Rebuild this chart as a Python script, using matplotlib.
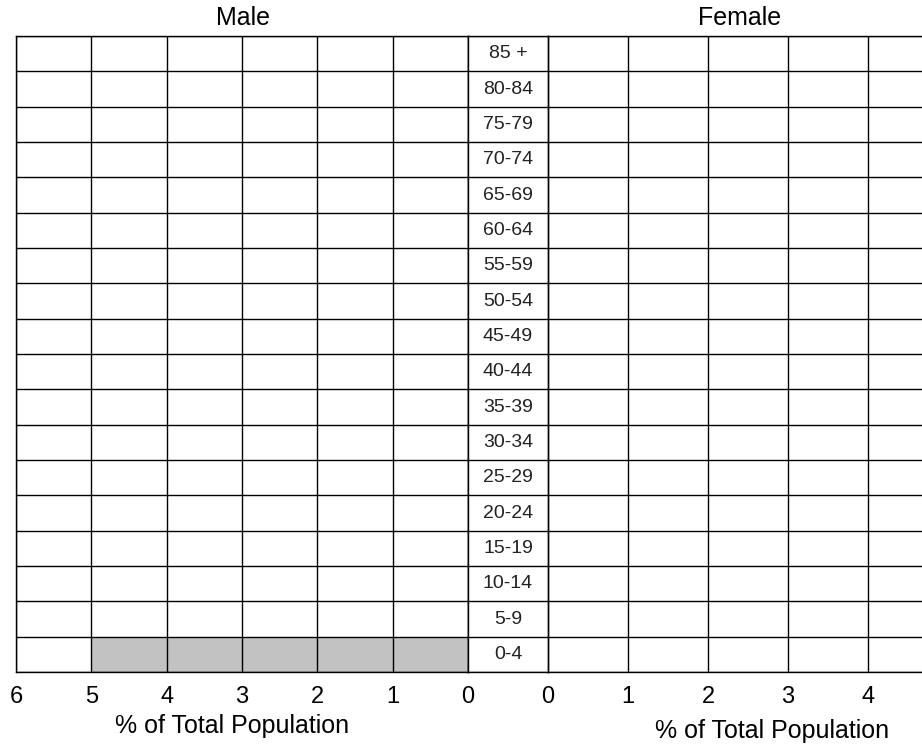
import matplotlib
matplotlib.use("Agg")
import matplotlib.pyplot as plt
import numpy as np

plt.rcParams['font.family'] = ['Liberation Sans', 'DejaVu Sans']

age_groups = ["0-4", "5-9", "10-14", "15-19", "20-24", "25-29", "30-34", "35-39",
              "40-44", "45-49", "50-54", "55-59", "60-64", "65-69", "70-74", "75-79",
              "80-84", "85 +"]
male_pct = [5, 0, 0, 0, 0, 0, 0, 0, 0, 0, 0, 0, 0, 0, 0, 0, 0, 0]
female_pct = [0, 0, 0, 0, 0, 0, 0, 0, 0, 0, 0, 0, 0, 0, 0, 0, 0, 0]
male_ticks = [6, 5, 4, 3, 2, 1, 0]
female_ticks = [0, 1, 2, 3, 4]

W, H = 922, 746
fig = plt.figure(figsize=(W / 100, H / 100), dpi=100)

top_px, bot_px = 36, 672
y0 = 1 - bot_px / H
hgt = (bot_px - top_px) / H

def px(x):
    return x / W

ax_m = fig.add_axes([px(16), y0, px(452), hgt])
ax_c = fig.add_axes([px(468), y0, px(80), hgt])
ax_f = fig.add_axes([px(548), y0, px(400), hgt])

n = len(age_groups)
ypos = np.arange(n)
bounds = np.arange(n + 1) - 0.5
lc = 'black'
lw = 1.0

for ax in (ax_m, ax_c, ax_f):
    ax.set_ylim(-0.5, n - 0.5)
    ax.set_yticks([])
    for b in bounds:
        ax.axhline(b, color=lc, lw=lw, zorder=3)
    for s in ax.spines.values():
        s.set_color(lc)
        s.set_linewidth(lw)
        s.set_zorder(4)
    ax.tick_params(length=0, labelsize=17, pad=10)

# Male
ax_m.barh(ypos, male_pct, height=1.0, color='#c2c2c2', edgecolor='none', zorder=1)
ax_m.set_xlim(6, 0)
ax_m.set_xticks(male_ticks)
ax_m.set_xticklabels([str(t) for t in male_ticks])
for t in male_ticks:
    ax_m.axvline(t, color=lc, lw=lw, zorder=3)

# Center
ax_c.set_xlim(0, 1)
ax_c.set_xticks([])
for y, lab in zip(ypos, age_groups):
    ax_c.text(0.5, y, lab, ha='center', va='center', fontsize=14, color='#222222')

# Female
ax_f.barh(ypos, female_pct, height=1.0, color='#c2c2c2', edgecolor='none', zorder=1)
ax_f.set_xlim(0, 5)
ax_f.set_xticks(female_ticks)
ax_f.set_xticklabels([str(t) for t in female_ticks])
for t in female_ticks:
    ax_f.axvline(t, color=lc, lw=lw, zorder=3)

fig.text(px(243), 1 - 18 / H, "Male", ha='center', va='center', fontsize=18)
fig.text(px(740), 1 - 18 / H, "Female", ha='center', va='center', fontsize=18)
fig.text(px(232), 1 - 726 / H, "% of Total Population", ha='center', va='center', fontsize=18)
fig.text(px(772), 1 - 731 / H, "% of Total Population", ha='center', va='center', fontsize=18)

fig.savefig("out.png", dpi=100)
